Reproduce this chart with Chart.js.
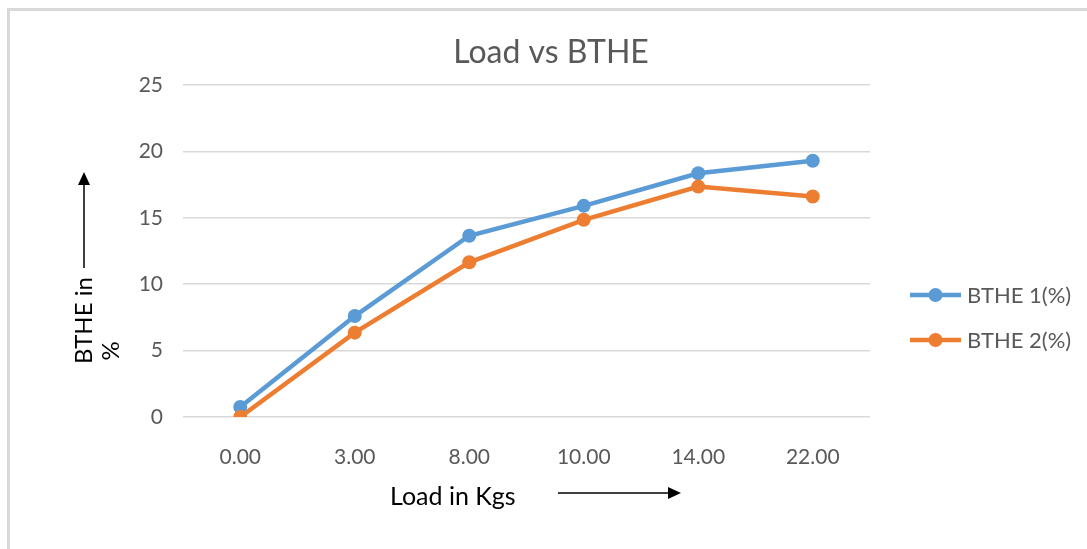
<!DOCTYPE html>
<html>
<head>
<meta charset="utf-8">
<script src="https://cdn.jsdelivr.net/npm/chart.js@4"></script>
<style>
  html, body { margin: 0; padding: 0; background: #fff; }
  #wrap { position: relative; width: 1087px; height: 549px; overflow: hidden; }
  #frame { position: absolute; left: 7px; top: 8px; width: 1100px; height: 560px;
           border-left: 3px solid #d9d9d9; border-top: 3px solid #d9d9d9; box-sizing: border-box; }
  #loadChart { position: absolute; left: 0; top: 0; }
</style>
</head>
<body>
<div id="wrap">
  <div id="frame"></div>
  <canvas id="loadChart" width="1087" height="549"></canvas>
</div>
<script>
const loads = ["0.00", "3.00", "8.00", "10.00", "14.00", "22.00"];
const bthe1 = [0.75, 7.6, 13.65, 15.9, 18.35, 19.3];
const bthe2 = [0, 6.35, 11.65, 14.85, 17.35, 16.6];
const yTicks = [0, 5, 10, 15, 20, 25];

const FONT = "Lato, 'Open Sans', sans-serif";
const GREY = "#595959";

const arrow = (ctx, x1, y1, x2, y2) => {
  const a = Math.atan2(y2 - y1, x2 - x1);
  ctx.beginPath();
  ctx.moveTo(x1, y1);
  ctx.lineTo(x2 - 10 * Math.cos(a), y2 - 10 * Math.sin(a));
  ctx.stroke();
  ctx.beginPath();
  ctx.moveTo(x2, y2);
  ctx.lineTo(x2 - 13 * Math.cos(a) + 6 * Math.sin(a), y2 - 13 * Math.sin(a) - 6 * Math.cos(a));
  ctx.lineTo(x2 - 13 * Math.cos(a) - 6 * Math.sin(a), y2 - 13 * Math.sin(a) + 6 * Math.cos(a));
  ctx.closePath();
  ctx.fill();
};

// title, axis titles with arrows and the legend on the right
const extras = {
  id: "extras",
  afterDraw(chart) {
    const ctx = chart.ctx;
    ctx.save();
    ctx.textBaseline = "middle";

    ctx.fillStyle = GREY;
    ctx.font = "32px " + FONT;
    ctx.textAlign = "center";
    ctx.fillText("Load vs BTHE", 551, 53);

    ctx.fillStyle = "#000";
    ctx.strokeStyle = "#000";
    ctx.lineWidth = 1.5;
    ctx.font = "25px " + FONT;
    ctx.textAlign = "left";
    ctx.fillText("Load in Kgs", 390, 497);
    arrow(ctx, 558, 493, 681, 493);

    ctx.font = "24px " + FONT;
    ctx.save();
    ctx.translate(84, 364);
    ctx.rotate(-Math.PI / 2);
    ctx.fillText("BTHE in", 0, 0);
    ctx.restore();
    arrow(ctx, 84, 268, 84, 172);
    ctx.save();
    ctx.translate(111, 351);
    ctx.rotate(-Math.PI / 2);
    ctx.textAlign = "center";
    ctx.fillText("%", 0, 0);
    ctx.restore();

    chart.data.datasets.forEach((ds, i) => {
      const y = 295 + i * 45;
      ctx.strokeStyle = ds.borderColor;
      ctx.fillStyle = ds.borderColor;
      ctx.lineWidth = 4.5;
      ctx.beginPath();
      ctx.moveTo(910, y);
      ctx.lineTo(961, y);
      ctx.stroke();
      ctx.beginPath();
      ctx.arc(935.5, y, 7, 0, Math.PI * 2);
      ctx.fill();
      ctx.fillStyle = GREY;
      ctx.font = "22px " + FONT;
      ctx.textAlign = "left";
      ctx.fillText(ds.label, 967, y + 1);
    });
    ctx.restore();
  },
};

const data = {
  labels: loads,
  datasets: [
    {
      label: "BTHE 1(%)",
      data: bthe1,
      order: 1,
      borderColor: "#5B9BD5",
      backgroundColor: "#5B9BD5",
      borderWidth: 4.5,
      pointRadius: 7,
      pointBorderWidth: 0,
    },
    {
      label: "BTHE 2(%)",
      data: bthe2,
      order: 0,
      borderColor: "#ED7D31",
      backgroundColor: "#ED7D31",
      borderWidth: 4.5,
      pointRadius: 7,
      pointBorderWidth: 0,
    },
  ],
};

const config = {
  type: "line",
  data: data,
  options: {
    responsive: false,
    animation: false,
    layout: { padding: { left: 16, right: 217, top: 85, bottom: 82 } },
    plugins: {
      legend: { display: false },
      tooltip: { enabled: false },
    },
    scales: {
      x: {
        offset: true,
        grid: { display: false },
        border: { display: false },
        ticks: { color: GREY, font: { family: FONT, size: 21 }, padding: 20 },
        afterFit: (s) => { s.height = 50; },
      },
      y: {
        min: 0,
        max: 25,
        afterBuildTicks: (s) => { s.ticks = yTicks.map((v) => ({ value: v })); },
        grid: { color: "#d9d9d9", lineWidth: 1.5, drawTicks: false },
        border: { display: false },
        ticks: { color: GREY, font: { family: FONT, size: 21 }, padding: 20 },
        afterFit: (s) => { s.width = 167; },
      },
    },
  },
  plugins: [extras],
};

new Chart(document.getElementById("loadChart"), config);
</script>
</body>
</html>
